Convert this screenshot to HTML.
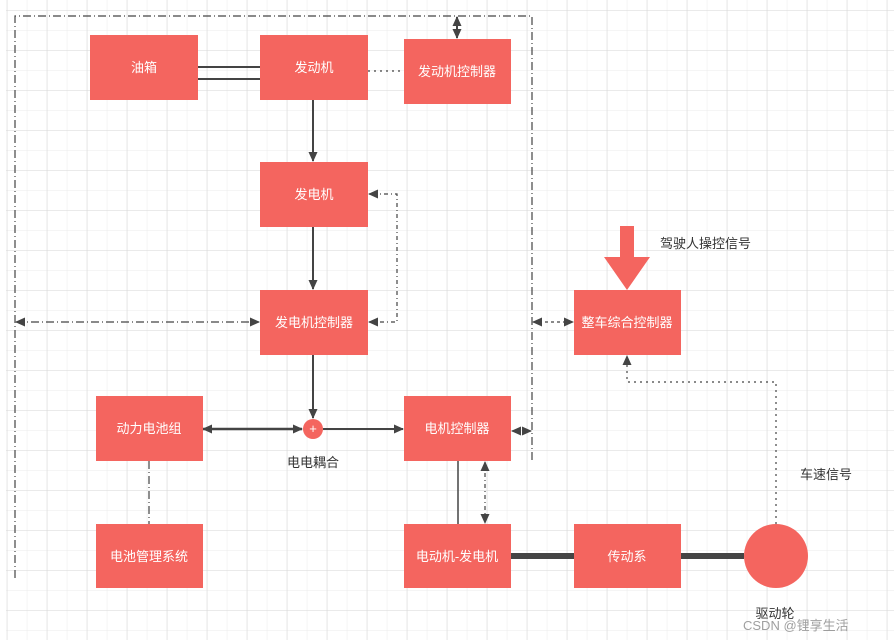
<!DOCTYPE html>
<html><head><meta charset="utf-8"><style>
html,body{margin:0;padding:0;background:#fff}
svg{display:block}
text{font-family:"Liberation Sans","Noto Sans CJK SC",sans-serif;font-size:13px}
</style></head><body>
<svg width="894" height="640" viewBox="0 0 894 640" xmlns="http://www.w3.org/2000/svg">
<defs>
<pattern id="gm" x="6.8" y="10" width="20" height="20" patternUnits="userSpaceOnUse"><path d="M0 0H20M0 0V20" stroke="#ebebeb" stroke-width="1" fill="none"/></pattern>
<pattern id="gM" x="6.8" y="10" width="40" height="40" patternUnits="userSpaceOnUse"><path d="M0 0H40M0 0V40" stroke="#d6d6d6" stroke-width="1" fill="none"/></pattern>
<marker id="a" markerWidth="10" markerHeight="10" refX="9" refY="5" orient="auto-start-reverse" markerUnits="userSpaceOnUse"><path d="M0 0.5L10 5L0 9.5z" fill="#444"/></marker>
</defs>
<rect x="6" y="0" width="888" height="640" fill="url(#gm)"/>
<rect x="6" y="0" width="888" height="640" fill="url(#gM)"/>
<g fill="none" stroke="#444" stroke-width="1.2">
<path d="M15 578V16H532V460" stroke-dasharray="8 3 1 3"/>
<path d="M457 17V38" stroke-width="2" marker-start="url(#a)" marker-end="url(#a)"/>
<path d="M16 322H259" stroke-dasharray="8 3 1 3" marker-start="url(#a)" marker-end="url(#a)"/>
<path d="M533 322H573" stroke-dasharray="3 3" marker-start="url(#a)" marker-end="url(#a)"/>
<path d="M369 322H397V194H369" stroke-dasharray="4 3 1 3" marker-start="url(#a)" marker-end="url(#a)"/>
<path d="M368 71H404" stroke-dasharray="2 4"/>
<path d="M198 67H260M198 79H260" stroke-width="2"/>
<path d="M313 100V161" stroke-width="2" marker-end="url(#a)"/>
<path d="M313 227V289" stroke-width="2" marker-end="url(#a)"/>
<path d="M313 355V418" stroke-width="2" marker-end="url(#a)"/>
<path d="M203 429H302" stroke-width="2.5" marker-start="url(#a)" marker-end="url(#a)"/>
<path d="M323 429H403" stroke-width="2" marker-end="url(#a)"/>
<path d="M512 431H531" stroke-dasharray="3 3" marker-start="url(#a)" marker-end="url(#a)"/>
<path d="M458 461V524" stroke-width="1.5"/>
<path d="M485 462V523" stroke-dasharray="4 3 1 3" marker-start="url(#a)" marker-end="url(#a)"/>
<path d="M149 461V524" stroke-dasharray="8 3 1 3"/>
<path d="M511 556H574M681 556H744" stroke-width="6"/>
<path d="M776 524V382H627V356" stroke-dasharray="2 4" marker-end="url(#a)"/>
</g>
<g fill="#f4655f">
<rect x="90" y="35" width="108" height="65"/>
<rect x="260" y="35" width="108" height="65"/>
<rect x="404" y="39" width="107" height="65"/>
<rect x="260" y="162" width="108" height="65"/>
<rect x="260" y="290" width="108" height="65"/>
<rect x="574" y="290" width="107" height="65"/>
<rect x="96" y="396" width="107" height="65"/>
<rect x="404" y="396" width="107" height="65"/>
<rect x="96" y="524" width="107" height="64"/>
<rect x="404" y="524" width="107" height="64"/>
<rect x="574" y="524" width="107" height="64"/>
<ellipse cx="776" cy="556" rx="32" ry="32"/>
<circle cx="313" cy="429" r="10"/>
<path d="M620 226H634V257H650L627 290L604 257H620Z"/>
</g>
<g fill="#fff" text-anchor="middle">
<text x="144" y="72">油箱</text>
<text x="314" y="72">发动机</text>
<text x="457" y="76">发动机控制器</text>
<text x="314" y="199">发电机</text>
<text x="314" y="327">发电机控制器</text>
<text x="627" y="327">整车综合控制器</text>
<text x="149" y="433">动力电池组</text>
<text x="457" y="433">电机控制器</text>
<text x="149" y="561">电池管理系统</text>
<text x="457" y="561">电动机-发电机</text>
<text x="627" y="561">传动系</text>
<text x="313" y="433" font-size="10">+</text>
</g>
<g fill="#333">
<text x="660" y="248">驾驶人操控信号</text>
<text x="800" y="479">车速信号</text>
<text x="313" y="467" text-anchor="middle">电电耦合</text>
<text x="775" y="618" text-anchor="middle">驱动轮</text>
</g>
<text x="743" y="630" fill="#888" font-size="19" opacity="0.8">CSDN @锂享生活</text>
</svg>
</body></html>
